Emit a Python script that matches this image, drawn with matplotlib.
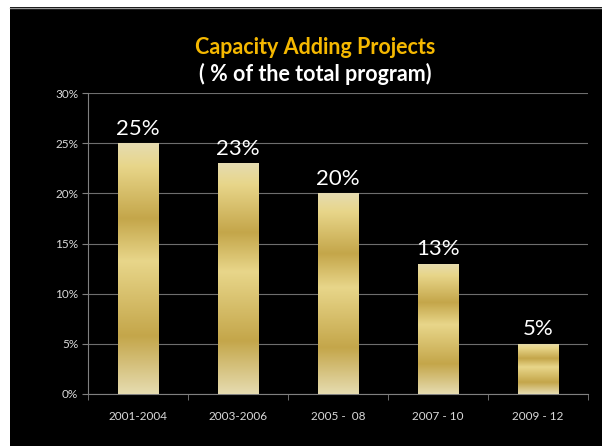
import matplotlib
matplotlib.use('Agg')
import numpy as np
import matplotlib.pyplot as plt
from matplotlib.colors import LinearSegmentedColormap
from matplotlib.patches import Rectangle

periods = ['2001-2004', '2003-2006', '2005 -  08', '2007 - 10', '2009 - 12']
share = [25, 23, 20, 13, 5]
yticks = [0, 5, 10, 15, 20, 25, 30]

plt.rcParams['font.family'] = ['Lato', 'DejaVu Sans']

fig = plt.figure(figsize=(6.02, 4.46), dpi=100, facecolor='black')
# white frame strips at top and left, as in the slide screenshot
fig.patches.append(Rectangle((0, 1 - 7/446), 1, 7/446, transform=fig.transFigure,
                             facecolor='white', edgecolor='none', zorder=0))
fig.patches.append(Rectangle((0, 0), 10/602, 1, transform=fig.transFigure,
                             facecolor='white', edgecolor='none', zorder=0))
fig.add_artist(plt.Line2D([10/602, 1], [1 - 7.5/446, 1 - 7.5/446], transform=fig.transFigure,
                          color='#9a9a9a', lw=1))

ax = fig.add_axes([88/602, 52/446, 500/602, 301/446])
ax.set_facecolor('black')

gold = LinearSegmentedColormap.from_list('gold', [
    (0.0, '#e6dcb0'), (0.23, '#c4a64a'), (0.53, '#e8d68a'),
    (0.70, '#c4a64a'), (0.91, '#e8d68a'), (1.0, '#e6dcb0')])
grad = np.linspace(0, 1, 256).reshape(-1, 1)

x = np.arange(len(periods))
bars = ax.bar(x, share, width=0.41, color='none', zorder=3)
for b, v in zip(bars, share):
    im = ax.imshow(grad, cmap=gold, origin='lower', aspect='auto', zorder=3,
                   extent=[b.get_x(), b.get_x() + b.get_width(), 0, v])
    im.set_clip_path(b)
    ax.text(b.get_x() + b.get_width() / 2, v + 0.45, '%d%%' % v, ha='center', va='bottom',
            color='white', fontsize=16)

ax.set_xlim(-0.5, len(periods) - 0.5)
ax.set_ylim(0, 30)
ax.set_yticks(yticks)
ax.set_yticklabels(['%d%%' % t for t in yticks], color='#d9d9d9', fontsize=8.5)
ax.set_xticks(x)
ax.set_xticklabels(periods, color='#d9d9d9', fontsize=8.5)
ax.set_xticks(np.arange(-0.5, len(periods)), minor=True)
ax.tick_params(axis='x', which='major', length=0, pad=12)
ax.tick_params(axis='x', which='minor', length=4, color='#808080')
ax.tick_params(axis='y', length=4, color='#808080', pad=3)
ax.grid(axis='y', color='#6e6e6e', lw=0.8, zorder=1)
ax.set_axisbelow(True)
for s in ['top', 'right']:
    ax.spines[s].set_visible(False)
for s in ['left', 'bottom']:
    ax.spines[s].set_color('#808080')

fig.text(315/602, 1 - 47/446, 'Capacity Adding Projects', ha='center', va='center',
         color='#f5b800', fontsize=15.5, fontweight='bold')
fig.text(315/602, 1 - 74/446, '( % of the total program)', ha='center', va='center',
         color='white', fontsize=15.5, fontweight='bold')

plt.savefig('out.png', dpi=100, facecolor=fig.get_facecolor())
